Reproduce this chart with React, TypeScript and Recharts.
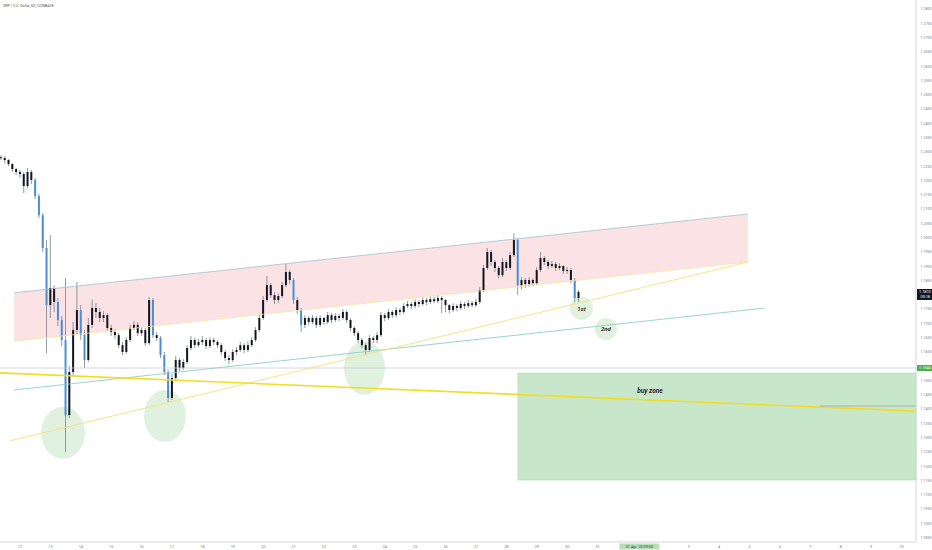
import { ComposedChart, Bar, Area, XAxis, YAxis, ReferenceLine, ReferenceArea, ReferenceDot } from "recharts";

// 3h candles, time in hours counted from 12 Mar 00:00
const startHour = -15;
const stepHours = 3;
const firstOpen = 1.2282;

const closes = [
  1.2279, 1.2272, 1.2258, 1.224, 1.223, 1.2223, 1.2181, 1.223, 1.2202, 1.2146,
  1.2079, 1.1964, 1.1764, 1.1824, 1.1775, 1.1712, 1.1642, 1.1379, 1.153, 1.1677,
  1.1747, 1.1659, 1.1572, 1.1695, 1.1754, 1.174, 1.1719, 1.1729, 1.1684, 1.167,
  1.1659, 1.1624, 1.16, 1.1642, 1.1684, 1.1695, 1.1666, 1.1677, 1.1631, 1.1782,
  1.1659, 1.1649, 1.1589, 1.153, 1.1439, 1.1509, 1.1572, 1.1544, 1.1565, 1.1614,
  1.1642, 1.1624, 1.1635, 1.1642, 1.1621, 1.1642, 1.1635, 1.1624, 1.16, 1.1579,
  1.1572, 1.16, 1.1607, 1.1624, 1.1607, 1.1624, 1.1642, 1.1677, 1.1719, 1.1782,
  1.1834, 1.1799, 1.1782, 1.1796, 1.1834, 1.188, 1.1852, 1.1782, 1.1747, 1.1695,
  1.1719, 1.1705, 1.1719, 1.1695, 1.1719, 1.1705, 1.1729, 1.1712, 1.1726, 1.1719,
  1.174, 1.1712, 1.1684, 1.1666, 1.1642, 1.1624, 1.1607, 1.1649, 1.1642, 1.1659,
  1.1729, 1.1719, 1.174, 1.1729, 1.1747, 1.174, 1.1761, 1.1768, 1.1761, 1.1775,
  1.1768, 1.1782, 1.1775, 1.1785, 1.1778, 1.1789, 1.1782, 1.1764, 1.1747, 1.1761,
  1.1754, 1.1768, 1.1761, 1.1771, 1.1764, 1.1775, 1.1817, 1.1894, 1.195, 1.1915,
  1.1894, 1.1869, 1.1915, 1.1894, 1.1939, 1.1992, 1.1834, 1.1852, 1.1838, 1.1852,
  1.1841, 1.1887, 1.1929, 1.1915, 1.1901, 1.1908, 1.1894, 1.1901, 1.1884, 1.1887,
  1.1852, 1.1789, 1.181,
];

const highs = [
  1.2289, 1.2286, 1.2275, 1.2261, 1.2244, 1.2237, 1.223, 1.2244, 1.2237, 1.2209,
  1.2153, 1.2086, 1.1992, 1.2009, 1.1834, 1.1789, 1.1726, 1.1859, 1.1551, 1.1705,
  1.1845, 1.1764, 1.1677, 1.1719, 1.1782, 1.1771, 1.1754, 1.1743, 1.1736, 1.1695,
  1.168, 1.1666, 1.1635, 1.1652, 1.1695, 1.1708, 1.1705, 1.1687, 1.1684, 1.1793,
  1.1789, 1.167, 1.1656, 1.16, 1.1537, 1.1523, 1.1586, 1.1579, 1.1575, 1.1624,
  1.1656, 1.1649, 1.1645, 1.1656, 1.1649, 1.1652, 1.1649, 1.1642, 1.1631, 1.1607,
  1.1589, 1.161, 1.1617, 1.1635, 1.1631, 1.1638, 1.1652, 1.1687, 1.1733, 1.1796,
  1.1866, 1.1841, 1.181, 1.1806, 1.1845, 1.1908, 1.1887, 1.1859, 1.1793, 1.1754,
  1.1729, 1.1726, 1.1729, 1.1726, 1.1729, 1.1722, 1.174, 1.1736, 1.1736, 1.1733,
  1.175, 1.1747, 1.1719, 1.1691, 1.1673, 1.1649, 1.1631, 1.1659, 1.1656, 1.167,
  1.174, 1.1736, 1.175, 1.1747, 1.1757, 1.1754, 1.1771, 1.1778, 1.1775, 1.1785,
  1.1782, 1.1793, 1.1789, 1.1796, 1.1793, 1.1799, 1.1796, 1.1785, 1.1768, 1.1771,
  1.1768, 1.1778, 1.1775, 1.1782, 1.1778, 1.1785, 1.1827, 1.1904, 1.1964, 1.1957,
  1.1922, 1.1901, 1.1929, 1.1922, 1.195, 1.2016, 1.1999, 1.1862, 1.1859, 1.1862,
  1.1859, 1.1897, 1.195, 1.1936, 1.1922, 1.1918, 1.1915, 1.1911, 1.1904, 1.1897,
  1.1894, 1.1859, 1.1817,
];

const lows = [
  1.2272, 1.2261, 1.2251, 1.223, 1.2219, 1.2209, 1.2156, 1.2174, 1.2188, 1.2135,
  1.2069, 1.195, 1.1596, 1.1719, 1.174, 1.1691, 1.1621, 1.125, 1.1369, 1.1519,
  1.1663, 1.1642, 1.1544, 1.1565, 1.1684, 1.1719, 1.1705, 1.1705, 1.1673, 1.1656,
  1.1645, 1.1614, 1.1589, 1.1593, 1.1635, 1.1677, 1.1656, 1.1656, 1.1621, 1.1624,
  1.1649, 1.1638, 1.1579, 1.1519, 1.1425, 1.1432, 1.1502, 1.1533, 1.1537, 1.1558,
  1.1607, 1.1614, 1.1617, 1.1624, 1.161, 1.1614, 1.1624, 1.1614, 1.1589, 1.1568,
  1.1558, 1.1565, 1.1589, 1.16, 1.1596, 1.16, 1.1617, 1.1635, 1.167, 1.1712,
  1.1775, 1.1789, 1.1768, 1.1771, 1.1789, 1.1827, 1.1838, 1.1768, 1.1733, 1.167,
  1.1684, 1.1695, 1.1698, 1.1684, 1.1687, 1.1695, 1.1698, 1.1701, 1.1705, 1.1708,
  1.1712, 1.1701, 1.1673, 1.1656, 1.1631, 1.1614, 1.1589, 1.16, 1.1631, 1.1631,
  1.1652, 1.1708, 1.1712, 1.1719, 1.1722, 1.1729, 1.1733, 1.1754, 1.175, 1.1754,
  1.1757, 1.1761, 1.1764, 1.1768, 1.1771, 1.1771, 1.1736, 1.174, 1.1736, 1.174,
  1.1743, 1.1747, 1.175, 1.1754, 1.1757, 1.1757, 1.1768, 1.181, 1.1887, 1.1901,
  1.188, 1.1859, 1.1862, 1.1884, 1.1887, 1.1932, 1.1799, 1.182, 1.1824, 1.1827,
  1.1831, 1.1834, 1.188, 1.1904, 1.189, 1.1894, 1.1884, 1.1887, 1.1873, 1.1873,
  1.1841, 1.1775, 1.1775,
];

const dayLabels = [
  "12", "13", "14", "15", "16", "17", "18", "19", "20", "21",
  "22", "23", "24", "25", "26", "27", "28", "29", "30", "31",
  "1", "2", "3", "4", "5", "6", "7", "8", "9", "10",
];

const priceTicks = [
  1.28, 1.275, 1.27, 1.265, 1.26, 1.255, 1.25, 1.245, 1.24, 1.235,
  1.23, 1.225, 1.22, 1.215, 1.21, 1.205, 1.2, 1.195, 1.19, 1.185,
  1.18, 1.175, 1.17, 1.165, 1.16, 1.155, 1.15, 1.145, 1.14, 1.135,
  1.13, 1.125, 1.12, 1.115, 1.11, 1.105, 1.1, 1.095,
];

const xDomain = [-15.8, 707.4];
const yDomain = [1.0935, 1.2832];

// drawings (time in hours, price)
const channelBand = [
  { t: -4.7, range: [1.1638, 1.1807] },
  { t: 574.7, range: [1.1915, 1.2083] },
];
const channelUpper = [{ x: -4.7, y: 1.1807 }, { x: 574.7, y: 1.2083 }];
const channelLower = [{ x: -4.7, y: 1.1638 }, { x: 574.7, y: 1.1915 }];
const tealTrend = [{ x: -4.7, y: 1.1467 }, { x: 588.1, y: 1.1754 }];
const yellowTrend = [{ x: -7.9, y: 1.1289 }, { x: 574.7, y: 1.1915 }];
const yellowFalling = [{ x: -15.8, y: 1.1527 }, { x: 707.4, y: 1.1393 }];
const greyStub = [{ x: 631.6, y: 1.1411 }, { x: 707.4, y: 1.1411 }];
const levelPrice = 1.1544;
const buyZone = { x1: 393.1, x2: 707.4, y1: 1.1152, y2: 1.1526 };
const buyZoneText = { t: 497.4, p: 1.1464 };
const touches = [
  { x1: 16.6, x2: 51.3, y1: 1.1226, y2: 1.1408, label: "" },
  { x1: 97.9, x2: 131.0, y1: 1.1285, y2: 1.1467, label: "" },
  { x1: 255.8, x2: 288.1, y1: 1.145, y2: 1.1638, label: "" },
  { x1: 434.2, x2: 452.4, y1: 1.1712, y2: 1.1793, label: "1st" },
  { x1: 453.9, x2: 471.3, y1: 1.1642, y2: 1.1719, label: "2nd" },
];
const cursorHour = 489;
const cursorText = "01 Apr '25  09:00";
const lastTimeText = "00:18";

const candles = closes.map((close, i) => ({
  t: startHour + i * stepHours,
  open: i === 0 ? firstOpen : closes[i - 1],
  close,
  high: highs[i],
  low: lows[i],
}));
const lastClose = closes[closes.length - 1];

// tags on the axes hide the tick labels under them
const dayTicks = dayLabels.map((_, k) => k * 24).filter((h) => Math.abs(h - cursorHour) > 16);
const axisPriceTicks = priceTicks.filter(
  (p) => Math.abs(p - lastClose) > 0.0025 && Math.abs(p - levelPrice) > 0.0015
);

const FONT = "Roboto, 'Noto Sans', sans-serif";

const Candle = (props: any) => {
  const { x, y, width, height, payload } = props;
  if (!payload) return null;
  const { open, close, high, low } = payload;
  const top = Math.min(y, y + height);
  const span = Math.abs(height);
  const px = (v: number) => (high === low ? top : top + ((high - v) / (high - low)) * span);
  const cx = x + width / 2;
  // steep bearish candles show in blue, the rest in black
  const steepDrop = open - close > 0.005;
  const bodyTop = px(Math.max(open, close));
  const bodyH = Math.max(1, px(Math.min(open, close)) - bodyTop);
  return (
    <g>
      <line x1={cx} x2={cx} y1={top} y2={top + span} stroke="#7b7f88" strokeWidth={0.8} />
      <rect x={cx - 1} y={bodyTop} width={2} height={bodyH} fill={steepDrop ? "#4a8fd6" : "#131722"} />
    </g>
  );
};

const Ellipse = (props: any) => {
  const { x, y, width, height } = props;
  return (
    <ellipse cx={x + width / 2} cy={y + height / 2} rx={width / 2} ry={height / 2} fill="#a5d6a7" fillOpacity={0.35} />
  );
};

const PriceTag = (props: any) => {
  const { viewBox, text, sub, bg, color } = props;
  if (!viewBox) return null;
  const x = viewBox.x + viewBox.width;
  const y = viewBox.y;
  const h = sub ? 11 : 6;
  return (
    <g>
      <rect x={x + 1} y={y - 3} width={15} height={h} fill={bg} />
      <text x={x + 3} y={y + 1.3} fontSize={3.8} fill={color} fontFamily={FONT}>{text}</text>
      {sub && <text x={x + 4.5} y={y + 6.3} fontSize={3.8} fill={color} fontFamily={FONT}>{sub}</text>}
    </g>
  );
};

const TimeTag = (props: any) => {
  const { viewBox, text } = props;
  if (!viewBox) return null;
  const x = viewBox.x;
  const y = viewBox.y + viewBox.height;
  return (
    <g>
      <rect x={x - 20} y={y + 1.5} width={40} height={6} fill="#b9dfba" />
      <text x={x} y={y + 5.9} fontSize={3.8} fill="#1b3d1c" textAnchor="middle" fontFamily={FONT}>{text}</text>
    </g>
  );
};

export default function App() {
  return (
    <div style={{ position: "absolute", left: 0, top: 0, width: 932, height: 550, background: "#fff" }}>
      <div style={{ position: "absolute", left: 3, top: 4, fontSize: 3.6, lineHeight: "4px", color: "#555", fontFamily: FONT, zIndex: 2 }}>
        XRP / U.S. Dollar, 60, COINBASE
      </div>
      <ComposedChart width={932} height={550} data={candles} margin={{ top: 0, right: 0, bottom: 0, left: 0 }}>
        <XAxis
          type="number"
          dataKey="t"
          domain={xDomain}
          allowDataOverflow
          ticks={dayTicks}
          interval={0}
          tickFormatter={(v) => dayLabels[Math.round(v / 24)]}
          height={8}
          tickSize={0}
          tickMargin={3}
          axisLine={{ stroke: "#d1d4dc" }}
          tick={{ fontSize: 3.8, fill: "#787b86", fontFamily: FONT }}
        />
        <YAxis
          orientation="right"
          type="number"
          domain={yDomain}
          allowDataOverflow
          ticks={axisPriceTicks}
          interval={0}
          tickFormatter={(v) => v.toFixed(4)}
          width={16}
          tickSize={0}
          tickMargin={4.5}
          axisLine={{ stroke: "#d1d4dc" }}
          tick={{ fontSize: 3.6, fill: "#787b86", fontFamily: FONT }}
        />

        <Area
          data={channelBand}
          dataKey="range"
          type="linear"
          stroke="none"
          fill="#f5c6cb"
          fillOpacity={0.5}
          dot={false}
          activeDot={false}
          isAnimationActive={false}
        />
        {touches.map((z, i) => (
          <ReferenceArea
            key={i}
            x1={z.x1}
            x2={z.x2}
            y1={z.y1}
            y2={z.y2}
            ifOverflow="visible"
            shape={<Ellipse />}
            label={z.label ? { value: z.label, position: "center", fontSize: 6, fontWeight: 700, fontStyle: "italic", fill: "#2a2e39", fontFamily: FONT } : undefined}
          />
        ))}
        <ReferenceArea
          x1={buyZone.x1}
          x2={buyZone.x2}
          y1={buyZone.y1}
          y2={buyZone.y2}
          fill="#c8e6c9"
          fillOpacity={1}
          stroke="#a5d6a7"
          strokeWidth={0.6}
          ifOverflow="visible"
        />
        <ReferenceLine y={levelPrice} stroke="#c9ccd3" strokeWidth={0.8} label={<PriceTag text={levelPrice.toFixed(4)} bg="#4caf50" color="#fff" />} />
        <ReferenceLine segment={channelUpper} stroke="#a6c1cb" strokeWidth={0.8} ifOverflow="visible" />
        <ReferenceLine segment={channelLower} stroke="#f6e7a4" strokeWidth={0.8} ifOverflow="visible" />
        <ReferenceLine segment={tealTrend} stroke="#8fcfc5" strokeWidth={0.9} ifOverflow="visible" />
        <ReferenceLine segment={yellowTrend} stroke="#f3e27a" strokeWidth={0.9} ifOverflow="visible" />
        <ReferenceLine segment={yellowFalling} stroke="#f0de25" strokeWidth={1.6} ifOverflow="visible" />
        <ReferenceLine segment={greyStub} stroke="#9ea3a8" strokeWidth={0.8} ifOverflow="visible" />

        <Bar dataKey={(d: any) => [d.low, d.high]} barSize={3} shape={<Candle />} isAnimationActive={false} />

        <ReferenceDot
          x={buyZoneText.t}
          y={buyZoneText.p}
          r={0}
          stroke="none"
          fill="none"
          label={{ value: "buy zone", position: "center", fontSize: 6.5, fontWeight: 700, fontStyle: "italic", fill: "#1e222d", fontFamily: FONT }}
        />
        <ReferenceLine y={lastClose} stroke="none" label={<PriceTag text={lastClose.toFixed(4)} sub={lastTimeText} bg="#131722" color="#fff" />} />
        <ReferenceLine x={cursorHour} stroke="none" label={<TimeTag text={cursorText} />} />
      </ComposedChart>
    </div>
  );
}
